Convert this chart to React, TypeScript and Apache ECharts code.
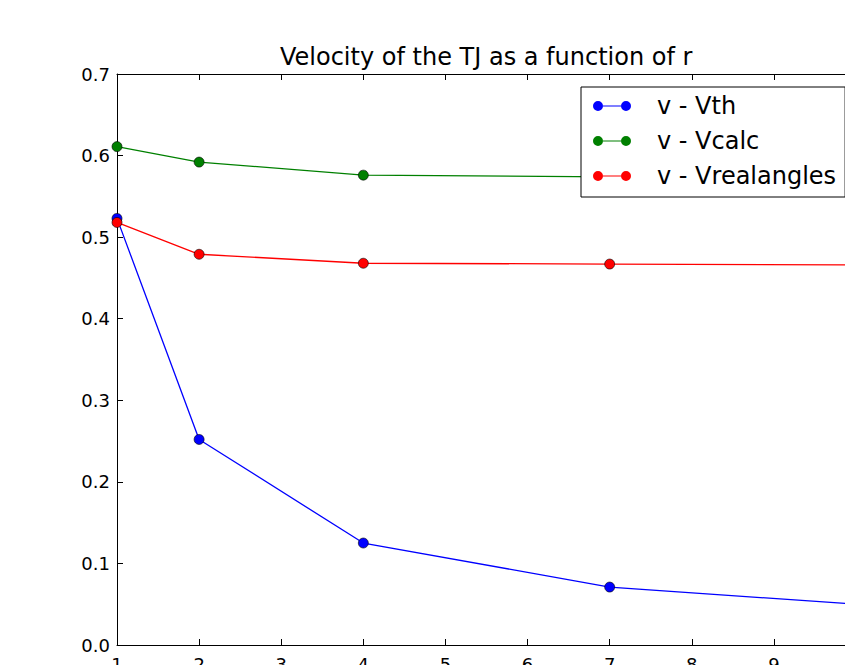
import React, { useEffect, useRef } from "react";
import * as echarts from "echarts";

const rValues = [1, 2, 4, 7, 10];
const vTh = [0.523, 0.252, 0.125, 0.071, 0.05];
const vCalc = [0.611, 0.592, 0.576, 0.574, 0.572];
const vRealAngles = [0.518, 0.479, 0.468, 0.467, 0.466];
const seriesNames = ["v - Vth", "v - Vcalc", "v - Vrealangles"];
const seriesColors = ["#0000ff", "#008000", "#ff0000"];
const titleText = "Velocity of the TJ as a function of r";

const FONT = "DejaVu Sans";
const legendIcon =
  "path://M0,5 A5,5 0 1,0 10,5 A5,5 0 1,0 0,5 Z M10,4.4 L28,4.4 L28,5.6 L10,5.6 Z M28,5 A5,5 0 1,0 38,5 A5,5 0 1,0 28,5 Z";

export default function App() {
  const ref = useRef<HTMLDivElement>(null);
  useEffect(() => {
    if (!ref.current) return;
    const chart = echarts.init(ref.current, undefined, { renderer: "svg" });
    const allData = [vTh, vCalc, vRealAngles];
    const axisCommon = {
      type: "value" as const,
      min: 1,
      max: 10,
      interval: 1,
      splitLine: { show: false },
      axisLine: { show: true, lineStyle: { color: "#000", width: 1 } },
      axisTick: { show: true, inside: true, length: 6, lineStyle: { color: "#000" } },
    };
    chart.setOption({
      animation: false,
      backgroundColor: "#fff",
      title: {
        text: titleText,
        left: 280,
        top: 45,
        padding: 0,
        textStyle: { fontFamily: FONT, fontSize: 24, fontWeight: "normal", color: "#000" },
      },
      legend: {
        orient: "vertical",
        left: 581,
        top: 87,
        padding: [7, 9, 9, 12],
        itemGap: 11,
        itemWidth: 38,
        itemHeight: 10,
        backgroundColor: "#fff",
        borderColor: "#000",
        borderWidth: 1,
        borderRadius: 0,
        icon: legendIcon,
        itemStyle: { borderWidth: 0 },
        textStyle: { fontFamily: FONT, fontSize: 24, color: "#000", padding: [0, 0, 0, 21] },
        data: seriesNames,
      },
      grid: { left: 117, top: 74, width: 739, height: 571, outerBoundsMode: "none", containLabel: false },
      xAxis: [
        {
          ...axisCommon,
          position: "bottom",
          axisLabel: { show: true, margin: 10, fontFamily: FONT, fontSize: 18, color: "#000" },
        },
        {
          ...axisCommon,
          position: "top",
          axisLabel: { show: false },
        },
      ],
      yAxis: {
        type: "value",
        min: 0,
        max: 0.7,
        interval: 0.1,
        splitLine: { show: false },
        axisLine: { show: true, lineStyle: { color: "#000", width: 1 } },
        axisTick: { show: true, inside: true, length: 6, lineStyle: { color: "#000" } },
        axisLabel: {
          margin: 7,
          fontFamily: FONT,
          fontSize: 18,
          color: "#000",
          formatter: (v: number) => v.toFixed(1),
        },
      },
      series: seriesNames.map((name, i) => ({
        name,
        type: "line",
        xAxisIndex: 0,
        data: rValues.map((r, j) => [r, allData[i][j]]),
        symbol: "circle",
        symbolSize: 10,
        showAllSymbol: true,
        color: seriesColors[i],
        lineStyle: { color: seriesColors[i], width: 1.3 },
        itemStyle: { color: seriesColors[i], borderColor: "#000", borderWidth: 0.6 },
        emphasis: { disabled: true },
      })),
    });
    return () => chart.dispose();
  }, []);
  return (
    <div
      ref={ref}
      style={{ position: "absolute", left: 0, top: 0, width: 845, height: 665 }}
    />
  );
}
